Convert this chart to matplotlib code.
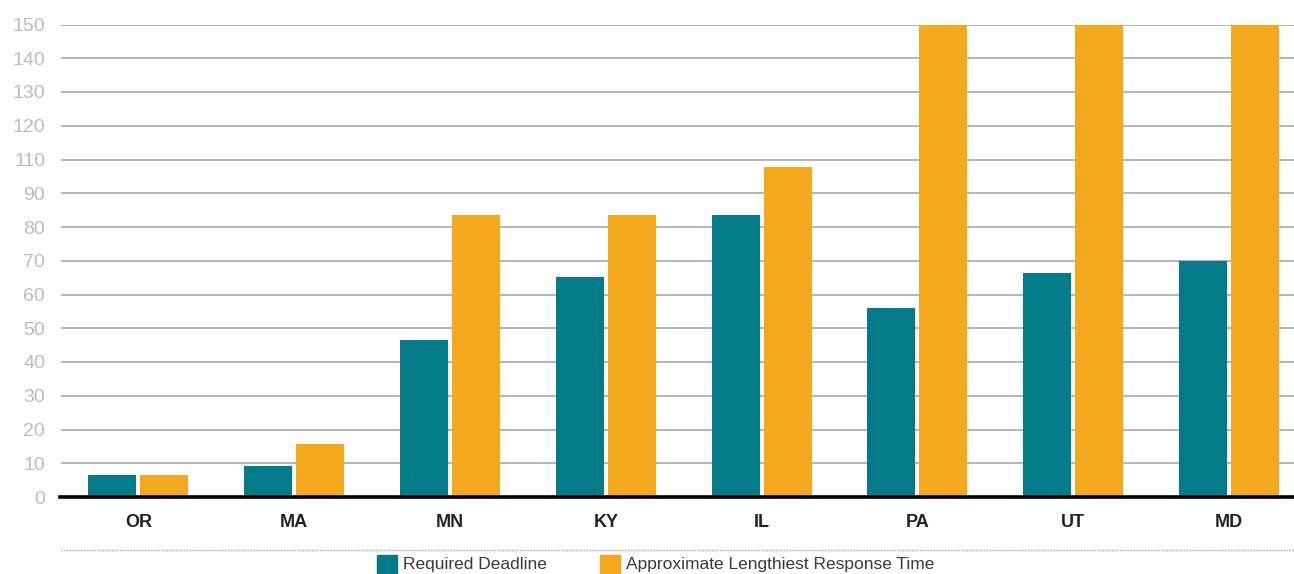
import matplotlib
matplotlib.use("Agg")
import matplotlib.pyplot as plt
from matplotlib.patches import Rectangle
from matplotlib.lines import Line2D
import numpy as np

plt.rcParams['font.family'] = ['Liberation Sans', 'DejaVu Sans']

states = ["OR", "MA", "MN", "KY", "IL", "PA", "UT", "MD"]
required_deadline = [6.5, 9.2, 46.4, 65.1, 83.7, 55.9, 66.3, 69.8]
lengthiest_response = [6.5, 15.7, 83.7, 83.7, 97.9, 180, 180, 180]
ytick_positions = [0, 10, 20, 30, 40, 50, 60, 70, 80, 90, 100, 110, 120, 130, 140]
ytick_labels = ["0", "10", "20", "30", "40", "50", "60", "70", "80", "90",
                "110", "120", "130", "140", "150"]
series_names = ["Required Deadline", "Approximate Lengthiest Response Time"]

TEAL = "#047b89"
ORANGE = "#f4a81d"

W, H = 1294, 574
fig = plt.figure(figsize=(W / 100, H / 100), dpi=100)

left_px = 60.5
group_px = 155.8
right_px = left_px + 8 * group_px
bottom_px = 497
top_px = 24.5
ax = fig.add_axes([left_px / W, (H - bottom_px) / H,
                   (right_px - left_px) / W, (bottom_px - top_px) / H])

x = np.arange(len(states))
bw = 0.308
off = 0.167
ax.bar(x - off, required_deadline, width=bw, color=TEAL, zorder=3)
ax.bar(x + off, lengthiest_response, width=bw, color=ORANGE, zorder=3)

ax.set_xlim(-0.5, len(states) - 0.5)
ax.set_ylim(0, 140)
ax.set_yticks(ytick_positions)
ax.set_yticklabels(ytick_labels)
ax.yaxis.grid(True, color="#aab1b4", linewidth=1.3, zorder=0)
ax.set_axisbelow(True)
for s in ["top", "right", "left"]:
    ax.spines[s].set_visible(False)
ax.spines["bottom"].set_color("#000000")
ax.spines["bottom"].set_linewidth(2.6)
ax.spines["bottom"].set_zorder(4)
ax.tick_params(axis="y", length=0, pad=11, labelsize=14, labelcolor="#b9bdc0")
ax.set_xticks(x)
ax.set_xticklabels(states, fontweight="bold", fontsize=13, color="#222222")
ax.tick_params(axis="x", length=0, pad=12)

# dotted separator line
fig.add_artist(Line2D([left_px / W, 1.0], [(H - 550) / H] * 2,
                      transform=fig.transFigure, color="#a0a0a0",
                      linestyle=(0, (1, 1)), linewidth=1.0))

# legend (custom, cut by figure bottom)
leg_y_bot = (H - 574) / H
patch_h = 19 / H
patch_w = 20 / W
for px, name, col in [(377, series_names[0], TEAL), (600, series_names[1], ORANGE)]:
    fig.add_artist(Rectangle((px / W, leg_y_bot), patch_w, patch_h,
                             transform=fig.transFigure, color=col))
    fig.text((px + 26) / W, (H - 565) / H, name, fontsize=12.5, color="#3a3a3a",
             va="center", ha="left")

fig.savefig("out.png", dpi=100)
